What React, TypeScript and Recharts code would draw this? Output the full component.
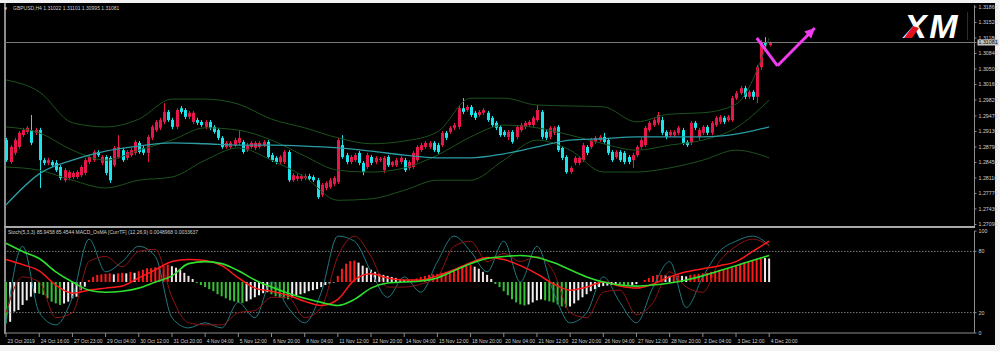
import React from 'react';
import { ComposedChart, Bar, Line, XAxis, YAxis, ReferenceLine, ReferenceDot, Cell } from 'recharts';

// GBPUSD H4, 23 Oct - 4 Dec 2019 (one entry per bar)
const opens = [
  1.2894, 1.2846, 1.2866, 1.2879, 1.2905, 1.2912, 1.2916, 1.2910, 1.2916, 1.2850,
  1.2844, 1.2846, 1.2844, 1.2835, 1.2806, 1.2811, 1.2813, 1.2813, 1.2817, 1.2822,
  1.2846, 1.2850, 1.2868, 1.2844, 1.2857, 1.2855, 1.2839, 1.2857, 1.2872, 1.2855,
  1.2861, 1.2866, 1.2888, 1.2877, 1.2866, 1.2899, 1.2916, 1.2921, 1.2934, 1.2956,
  1.2938, 1.2923, 1.2964, 1.2960, 1.2945, 1.2934, 1.2938, 1.2934, 1.2923, 1.2934,
  1.2923, 1.2916, 1.2899, 1.2879, 1.2879, 1.2883, 1.2888, 1.2890, 1.2872, 1.2879,
  1.2877, 1.2879, 1.2883, 1.2890, 1.2861, 1.2855, 1.2846, 1.2846, 1.2868, 1.2806,
  1.2809, 1.2809, 1.2811, 1.2815, 1.2813, 1.2806, 1.2774, 1.2789, 1.2791, 1.2798,
  1.2802, 1.2883, 1.2861, 1.2846, 1.2850, 1.2866, 1.2844, 1.2835, 1.2857, 1.2846,
  1.2850, 1.2828, 1.2857, 1.2839, 1.2839, 1.2846, 1.2850, 1.2833, 1.2835, 1.2850,
  1.2872, 1.2879, 1.2879, 1.2888, 1.2883, 1.2883, 1.2910, 1.2912, 1.2921, 1.2923,
  1.2964, 1.2960, 1.2967, 1.2954, 1.2949, 1.2954, 1.2954, 1.2943, 1.2932, 1.2923,
  1.2912, 1.2901, 1.2912, 1.2901, 1.2916, 1.2923, 1.2927, 1.2927, 1.2938, 1.2956,
  1.2912, 1.2901, 1.2910, 1.2923, 1.2877, 1.2857, 1.2824, 1.2844, 1.2844, 1.2850,
  1.2879, 1.2879, 1.2890, 1.2894, 1.2901, 1.2894, 1.2868, 1.2857, 1.2868, 1.2866,
  1.2857, 1.2850, 1.2861, 1.2879, 1.2883, 1.2916, 1.2927, 1.2932, 1.2938, 1.2912,
  1.2905, 1.2905, 1.2910, 1.2916, 1.2890, 1.2888, 1.2932, 1.2901, 1.2910, 1.2923,
  1.2910, 1.2927, 1.2934, 1.2943, 1.2938, 1.2938, 1.2986, 1.2997, 1.3008, 1.2989,
  1.3000, 1.2989, 1.3054, 1.3107, 1.31022,
];
const highs = [
  1.2899, 1.2883, 1.2899, 1.2914, 1.2921, 1.2925, 1.2949, 1.2921, 1.2921, 1.2855,
  1.2855, 1.2850, 1.2850, 1.2839, 1.2833, 1.2828, 1.2826, 1.2828, 1.2839, 1.2855,
  1.2861, 1.2872, 1.2872, 1.2861, 1.2861, 1.2859, 1.2881, 1.2905, 1.2877, 1.2872,
  1.2877, 1.2894, 1.2892, 1.2881, 1.2905, 1.2927, 1.2938, 1.2943, 1.2975, 1.2960,
  1.2943, 1.2964, 1.2969, 1.2964, 1.2958, 1.2958, 1.2943, 1.2938, 1.2938, 1.2938,
  1.2927, 1.2921, 1.2903, 1.2892, 1.2892, 1.2899, 1.2916, 1.2894, 1.2888, 1.2892,
  1.2892, 1.2892, 1.2894, 1.2894, 1.2866, 1.2859, 1.2861, 1.2872, 1.2872, 1.2822,
  1.2820, 1.2820, 1.2820, 1.2820, 1.2817, 1.2811, 1.2800, 1.2804, 1.2811, 1.2815,
  1.2899, 1.2905, 1.2866, 1.2861, 1.2866, 1.2870, 1.2848, 1.2866, 1.2861, 1.2859,
  1.2857, 1.2859, 1.2861, 1.2848, 1.2855, 1.2859, 1.2855, 1.2850, 1.2870, 1.2883,
  1.2888, 1.2892, 1.2892, 1.2892, 1.2888, 1.2914, 1.2914, 1.2925, 1.2932, 1.2969,
  1.2986, 1.2971, 1.2971, 1.2958, 1.2960, 1.2964, 1.2958, 1.2947, 1.2936, 1.2927,
  1.2916, 1.2916, 1.2916, 1.2927, 1.2932, 1.2936, 1.2938, 1.2947, 1.2971, 1.2960,
  1.2916, 1.2925, 1.2925, 1.2927, 1.2881, 1.2861, 1.2837, 1.2859, 1.2859, 1.2888,
  1.2883, 1.2899, 1.2903, 1.2905, 1.2910, 1.2899, 1.2872, 1.2872, 1.2872, 1.2870,
  1.2861, 1.2866, 1.2883, 1.2899, 1.2925, 1.2936, 1.2943, 1.2956, 1.2945, 1.2916,
  1.2916, 1.2916, 1.2925, 1.2921, 1.2894, 1.2936, 1.2936, 1.2921, 1.2927, 1.2927,
  1.2936, 1.2947, 1.2949, 1.2947, 1.2949, 1.2991, 1.3002, 1.3013, 1.3013, 1.3004,
  1.3004, 1.3059, 1.3114, 1.3120, 1.31101,
];
const lows = [
  1.2846, 1.2842, 1.2861, 1.2875, 1.2901, 1.2908, 1.2883, 1.2905, 1.2789, 1.2839,
  1.2839, 1.2835, 1.2824, 1.2806, 1.2802, 1.2806, 1.2809, 1.2809, 1.2813, 1.2817,
  1.2841, 1.2846, 1.2857, 1.2839, 1.2817, 1.2800, 1.2835, 1.2853, 1.2846, 1.2850,
  1.2857, 1.2861, 1.2864, 1.2861, 1.2846, 1.2894, 1.2912, 1.2916, 1.2929, 1.2934,
  1.2918, 1.2918, 1.2951, 1.2940, 1.2940, 1.2929, 1.2927, 1.2923, 1.2918, 1.2916,
  1.2908, 1.2894, 1.2875, 1.2875, 1.2875, 1.2879, 1.2883, 1.2864, 1.2868, 1.2875,
  1.2872, 1.2875, 1.2879, 1.2853, 1.2846, 1.2841, 1.2841, 1.2841, 1.2802, 1.2802,
  1.2804, 1.2804, 1.2806, 1.2804, 1.2802, 1.2765, 1.2769, 1.2784, 1.2787, 1.2793,
  1.2798, 1.2853, 1.2841, 1.2841, 1.2846, 1.2839, 1.2817, 1.2831, 1.2839, 1.2841,
  1.2846, 1.2822, 1.2835, 1.2835, 1.2835, 1.2841, 1.2824, 1.2828, 1.2831, 1.2846,
  1.2868, 1.2875, 1.2875, 1.2868, 1.2864, 1.2879, 1.2894, 1.2908, 1.2916, 1.2918,
  1.2951, 1.2956, 1.2945, 1.2938, 1.2945, 1.2949, 1.2934, 1.2923, 1.2916, 1.2901,
  1.2901, 1.2894, 1.2886, 1.2896, 1.2912, 1.2918, 1.2923, 1.2923, 1.2934, 1.2896,
  1.2894, 1.2896, 1.2905, 1.2868, 1.2850, 1.2820, 1.2820, 1.2839, 1.2839, 1.2846,
  1.2861, 1.2875, 1.2886, 1.2890, 1.2886, 1.2861, 1.2846, 1.2853, 1.2846, 1.2841,
  1.2841, 1.2833, 1.2857, 1.2875, 1.2879, 1.2912, 1.2923, 1.2927, 1.2905, 1.2896,
  1.2901, 1.2901, 1.2905, 1.2883, 1.2879, 1.2883, 1.2916, 1.2894, 1.2905, 1.2905,
  1.2905, 1.2923, 1.2929, 1.2929, 1.2934, 1.2934, 1.2982, 1.2993, 1.2984, 1.2984,
  1.2982, 1.2975, 1.3048, 1.3092, 1.30995,
];
const closes = [
  1.2850, 1.2879, 1.2894, 1.2910, 1.2916, 1.2921, 1.2888, 1.2916, 1.2850, 1.2844,
  1.2850, 1.2839, 1.2828, 1.2811, 1.2828, 1.2824, 1.2822, 1.2824, 1.2835, 1.2850,
  1.2857, 1.2868, 1.2861, 1.2857, 1.2822, 1.2806, 1.2877, 1.2879, 1.2850, 1.2868,
  1.2872, 1.2890, 1.2868, 1.2866, 1.2901, 1.2923, 1.2934, 1.2938, 1.2956, 1.2938,
  1.2923, 1.2960, 1.2956, 1.2945, 1.2954, 1.2954, 1.2932, 1.2927, 1.2934, 1.2921,
  1.2912, 1.2899, 1.2879, 1.2888, 1.2888, 1.2894, 1.2899, 1.2868, 1.2883, 1.2888,
  1.2888, 1.2888, 1.2890, 1.2857, 1.2850, 1.2846, 1.2857, 1.2868, 1.2806, 1.2817,
  1.2815, 1.2815, 1.2815, 1.2809, 1.2806, 1.2769, 1.2796, 1.2800, 1.2806, 1.2811,
  1.2894, 1.2857, 1.2846, 1.2857, 1.2861, 1.2844, 1.2824, 1.2861, 1.2844, 1.2855,
  1.2853, 1.2855, 1.2839, 1.2846, 1.2850, 1.2855, 1.2828, 1.2846, 1.2866, 1.2879,
  1.2883, 1.2888, 1.2888, 1.2872, 1.2868, 1.2910, 1.2899, 1.2921, 1.2927, 1.2964,
  1.2956, 1.2967, 1.2949, 1.2943, 1.2956, 1.2960, 1.2938, 1.2927, 1.2921, 1.2905,
  1.2905, 1.2912, 1.2890, 1.2923, 1.2927, 1.2932, 1.2934, 1.2943, 1.2960, 1.2901,
  1.2899, 1.2921, 1.2921, 1.2872, 1.2855, 1.2824, 1.2833, 1.2855, 1.2855, 1.2883,
  1.2866, 1.2894, 1.2899, 1.2901, 1.2890, 1.2866, 1.2850, 1.2868, 1.2850, 1.2846,
  1.2846, 1.2861, 1.2879, 1.2894, 1.2921, 1.2932, 1.2938, 1.2949, 1.2910, 1.2901,
  1.2912, 1.2912, 1.2921, 1.2888, 1.2883, 1.2932, 1.2921, 1.2916, 1.2923, 1.2910,
  1.2932, 1.2943, 1.2945, 1.2934, 1.2945, 1.2986, 1.2997, 1.3008, 1.2989, 1.3000,
  1.2989, 1.3054, 1.3107, 1.3102, 1.31081,
];

// Bollinger bands and slow MA, read every 8th bar
const BAND_STEP = 8;
const bbUpper = [1.3026, 1.3000, 1.2932, 1.2923, 1.2940, 1.2984, 1.2984, 1.2973, 1.2940, 1.2921, 1.2899, 1.2886,
  1.2892, 1.2912, 1.2986, 1.2986, 1.2971, 1.2969, 1.2967, 1.2934, 1.2951, 1.2954, 1.2973, 1.3118];
const bbMiddle = [1.2923, 1.2910, 1.2872, 1.2850, 1.2872, 1.2894, 1.2921, 1.2916, 1.2894, 1.2859, 1.2828, 1.2824,
  1.2833, 1.2861, 1.2901, 1.2927, 1.2921, 1.2905, 1.2886, 1.2872, 1.2883, 1.2894, 1.2921, 1.2982];
const bbLower = [1.2835, 1.2828, 1.2806, 1.2789, 1.2806, 1.2813, 1.2850, 1.2877, 1.2850, 1.2813, 1.2762, 1.2765,
  1.2784, 1.2806, 1.2806, 1.2850, 1.2894, 1.2872, 1.2824, 1.2824, 1.2833, 1.2850, 1.2872, 1.2855];
const slowMa = [1.2752, 1.2820, 1.2850, 1.2870, 1.2881, 1.2888, 1.2886, 1.2883, 1.2883, 1.2881, 1.2877, 1.2870,
  1.2861, 1.2855, 1.2855, 1.2864, 1.2879, 1.2894, 1.2897, 1.2901, 1.2901, 1.2901, 1.2907, 1.2923];

// oscillator window (0..100 scale), histogram per bar, lines every 4th bar
const OSC_STEP = 4;
const osmaHist = [
  9.5, 11, 21, 22.5, 27.5, 32, 35.6, 39, 38.5, 37.3,
  34, 30.7, 29, 27.5, 29, 30.7, 34, 35.6, 42, 45.4,
  52, 55, 57, 57.5, 58, 58.5, 57.5, 58.5, 59, 58.5,
  60, 59, 60.5, 62, 63.5, 63.6, 64.5, 65, 66, 67,
  65.5, 64, 62, 59, 56, 53, 49, 47, 45, 43,
  41, 38, 36, 34, 32, 31, 30, 29.5, 31, 33,
  35, 37, 39, 40, 38, 36, 35, 34, 33, 35,
  37, 38, 39, 41, 42, 43, 45, 47, 48.5, 49.5,
  56, 63, 68, 70.5, 71, 69, 66, 64, 62, 60,
  58, 57, 56, 55, 54, 53, 52, 51.5, 52.5, 53.5,
  55, 56, 57, 57.5, 58, 59, 60, 61, 62.5, 64,
  65, 66, 66.5, 65, 63, 60, 57, 53, 48, 45,
  41, 37, 33, 30, 28, 27, 28, 30, 32, 33,
  32, 31, 30, 28, 26, 25, 26, 29, 32, 35,
  38, 41, 43, 45, 46, 46.5, 47, 47.5, 47, 46.5,
  46.5, 47, 48, 50, 52, 54, 56, 57, 57, 56.5,
  56, 56, 56.5, 56, 55.5, 57, 57.5, 58, 58.5, 59,
  60, 61, 62, 62.5, 63, 64, 66, 68, 69, 70,
  71, 73, 74, 73.5, 73,
];
const macdRed = [72, 67, 61, 47, 39, 42, 44, 46, 54, 62, 70, 72, 71, 66, 54, 44, 41, 37, 31, 27, 33, 52, 58, 54,
  52, 52, 56, 62, 69, 74, 72, 66, 58, 48, 42, 45, 50, 46, 44, 48, 55, 60, 63, 66, 70, 80, 90];
const macdGreen = [88, 80, 73, 60, 50, 42, 40, 41, 44, 50, 56, 68, 70, 68, 61, 52, 45, 39, 34, 30, 27, 33, 44, 49,
  50, 51, 54, 61, 68, 73, 75, 76, 74, 69, 62, 55, 50, 47, 46, 47, 49, 52, 56, 61, 66, 71, 76];
const stochMain = [10, 85, 20, 8, 35, 92, 60, 70, 85, 75, 15, 5, 10, 5, 30, 15, 50, 25, 10, 40, 95, 90, 60, 35,
  55, 40, 70, 95, 80, 60, 90, 50, 85, 40, 10, 20, 55, 30, 10, 45, 70, 25, 55, 80, 90, 95, 86];
const stochSignal = [20, 55, 50, 15, 20, 70, 75, 65, 80, 82, 35, 10, 8, 8, 20, 22, 35, 35, 15, 25, 75, 95, 75, 45,
  45, 48, 55, 85, 90, 70, 78, 70, 75, 60, 20, 15, 40, 42, 18, 30, 60, 45, 40, 70, 85, 92, 85.5];

const timeLabels = ['23 Oct 2019', '24 Oct 16:00', '27 Oct 23:00', '29 Oct 04:00', '30 Oct 12:00', '31 Oct 20:00',
  '4 Nov 04:00', '5 Nov 12:00', '6 Nov 20:00', '8 Nov 04:00', '11 Nov 12:00', '12 Nov 20:00', '14 Nov 04:00',
  '15 Nov 12:00', '18 Nov 20:00', '20 Nov 04:00', '21 Nov 12:00', '22 Nov 20:00', '26 Nov 04:00', '27 Nov 12:00',
  '28 Nov 20:00', '2 Dec 04:00', '3 Dec 12:00', '4 Dec 20:00'];
const TIME_STEP = 8;
const priceTicks = [1.3186, 1.3152, 1.3118, 1.3084, 1.305, 1.3016, 1.2982, 1.2947, 1.2913, 1.2879, 1.2845,
  1.2811, 1.2777, 1.2743, 1.2709];
const oscTicks = [0, 20, 80, 100];
const lastPrice = 1.31081;
// hand-drawn arrow (bar index, price)
const arrowPts = [{ i: 181, p: 1.3118 }, { i: 186, p: 1.3057 }, { i: 195, p: 1.314 }];

const SLOTS = 234; // bars + empty chart shift on the right
const HIST_BASE = 50;
const FONT = 'Liberation Sans, Arial, sans-serif';
const TXT = '#cfcfcf';
const FRAME = '#8c8c8c';
const UP = '#e8174b';
const DOWN = '#1ce4ec';

const rows = Array.from({ length: SLOTS }, (_, i) => {
  const r: Record<string, any> = { i };
  if (i < closes.length) {
    r.o = opens[i];
    r.h = highs[i];
    r.l = lows[i];
    r.c = closes[i];
    r.range = [lows[i], highs[i]];
    const v = osmaHist[i];
    r.hist = [Math.min(HIST_BASE, v), Math.max(HIST_BASE, v)];
  }
  if (i % BAND_STEP === 0 && i / BAND_STEP < bbUpper.length) {
    const k = i / BAND_STEP;
    r.bbU = bbUpper[k];
    r.bbM = bbMiddle[k];
    r.bbL = bbLower[k];
    r.ma = slowMa[k];
  }
  if (i % OSC_STEP === 0 && i / OSC_STEP < stochMain.length) {
    const k = i / OSC_STEP;
    r.red = macdRed[k];
    r.green = macdGreen[k];
    r.sMain = stochMain[k];
    r.sSig = stochSignal[k];
  }
  return r;
});

const histColor = (i: number) => {
  if (i >= osmaHist.length) return 'none';
  const v = osmaHist[i];
  const prev = i > 0 ? osmaHist[i - 1] : v;
  if (v >= HIST_BASE) return v >= prev ? '#ff1a1a' : '#f4e4e4';
  return v <= prev ? '#34c234' : '#f0f0f0';
};

function Candle(props: any) {
  const { x, y, width, height, payload } = props;
  if (!payload || payload.c == null) return null;
  const { o, h, l, c } = payload;
  const k = h > l ? height / (h - l) : 0;
  const yo = y + (h - o) * k;
  const yc = y + (h - c) * k;
  const color = c >= o ? UP : DOWN;
  const cx = Math.round(x + width / 2) + 0.5;
  return (
    <g>
      <line x1={cx} x2={cx} y1={y} y2={y + height} stroke={color} strokeWidth={1} />
      <rect x={cx - 1.5} y={Math.min(yo, yc)} width={3} height={Math.max(1, Math.abs(yc - yo))} fill={color} />
    </g>
  );
}

function PriceTick(props: any) {
  const { x, y, payload } = props;
  const v = payload.value;
  if (v === lastPrice) {
    return (
      <g>
        <rect x={x - 1} y={y - 3} width={21} height={6} fill="#c4c4c4" />
        <text x={x} y={y + 1.9} fontSize={5.3} fontFamily={FONT} fill="#000">{v.toFixed(5)}</text>
      </g>
    );
  }
  return <text x={x} y={y + 1.9} fontSize={5.3} fontFamily={FONT} fill={TXT}>{v.toFixed(5)}</text>;
}

function OscTick(props: any) {
  const { x, y, payload } = props;
  return <text x={x} y={y + 1.9} fontSize={5.3} fontFamily={FONT} fill={TXT}>{payload.value}</text>;
}

function TimeTick(props: any) {
  const { x, y, payload } = props;
  return (
    <text x={x + 1.5} y={y + 3.8} fontSize={5} fontFamily={FONT} fill={TXT} textAnchor="start">
      {timeLabels[payload.value / TIME_STEP]}
    </text>
  );
}

function ArrowHead(props: any) {
  const { cx, cy } = props;
  if (cx == null) return null;
  return <polygon points="0,0 -10,-5 -10,5" fill="#f03cf0" transform={`translate(${cx},${cy}) rotate(-45)`} />;
}

export default function App() {
  const timeTicks = timeLabels.map((_, k) => k * TIME_STEP);
  return (
    <div style={{ position: 'absolute', left: 0, top: 0, width: 1000, height: 351, background: '#f2f2f2', overflow: 'hidden' }}>
      <div style={{ position: 'absolute', left: 0, top: 3, width: 995, height: 342, background: '#000' }} />
      <div style={{ position: 'absolute', left: 4, top: 3, width: 1.5, height: 331, background: FRAME }} />

      {/* price window */}
      <div style={{ position: 'absolute', left: 0, top: 0 }}>
        <ComposedChart width={1000} height={227} data={rows} margin={{ top: 5, right: 0, bottom: 1, left: 4 }}>
          <XAxis dataKey="i" hide />
          <YAxis
            orientation="right"
            width={25.5}
            type="number"
            domain={[1.27056, 1.31904]}
            allowDataOverflow
            ticks={[...priceTicks, lastPrice]}
            interval={0}
            tick={<PriceTick />}
            tickSize={2}
            tickLine={{ stroke: FRAME }}
            axisLine={{ stroke: FRAME }}
          />
          <ReferenceLine y={lastPrice} stroke="#7a7a7a" strokeWidth={1} />
          <Line dataKey="bbU" type="monotone" stroke="#1d531d" strokeWidth={1} dot={false} connectNulls isAnimationActive={false} />
          <Line dataKey="bbM" type="monotone" stroke="#1d531d" strokeWidth={1} dot={false} connectNulls isAnimationActive={false} />
          <Line dataKey="bbL" type="monotone" stroke="#1d531d" strokeWidth={1} dot={false} connectNulls isAnimationActive={false} />
          <Line dataKey="ma" type="monotone" stroke="#2a9ca4" strokeWidth={1.3} dot={false} connectNulls isAnimationActive={false} />
          <Bar dataKey="range" barSize={3} isAnimationActive={false} shape={(p: any) => <Candle {...p} />} />
          <ReferenceLine
            segment={[{ x: arrowPts[0].i, y: arrowPts[0].p }, { x: arrowPts[1].i, y: arrowPts[1].p }]}
            stroke="#f03cf0" strokeWidth={3} ifOverflow="visible"
          />
          <ReferenceLine
            segment={[{ x: arrowPts[1].i, y: arrowPts[1].p }, { x: arrowPts[2].i, y: arrowPts[2].p }]}
            stroke="#f03cf0" strokeWidth={3} ifOverflow="visible"
          />
          <ReferenceDot x={arrowPts[2].i} y={arrowPts[2].p} ifOverflow="visible" shape={(p: any) => <ArrowHead {...p} />} />
        </ComposedChart>
      </div>

      <div style={{ position: 'absolute', left: 4, top: 225.5, width: 971, height: 2, background: '#a8a8a8' }} />

      {/* oscillator window */}
      <div style={{ position: 'absolute', left: 0, top: 226 }}>
        <ComposedChart width={1000} height={119} data={rows} margin={{ top: 5, right: 0, bottom: 0, left: 4 }}>
          <XAxis
            dataKey="i"
            height={12}
            ticks={timeTicks}
            interval={0}
            tick={<TimeTick />}
            tickSize={4}
            tickLine={{ stroke: FRAME }}
            axisLine={{ stroke: FRAME }}
          />
          <YAxis
            orientation="right"
            width={25.5}
            type="number"
            domain={[0, 100]}
            ticks={oscTicks}
            interval={0}
            tick={<OscTick />}
            tickSize={2}
            tickLine={{ stroke: FRAME }}
            axisLine={{ stroke: FRAME }}
          />
          <ReferenceLine y={80} stroke="#9a9a9a" strokeDasharray="1.5 1.5" strokeWidth={0.8} />
          <ReferenceLine y={20} stroke="#9a9a9a" strokeDasharray="1.5 1.5" strokeWidth={0.8} />
          <Bar dataKey="hist" barSize={2} isAnimationActive={false}>
            {rows.map((_, i) => <Cell key={i} fill={histColor(i)} />)}
          </Bar>
          <Line dataKey="sMain" type="monotone" stroke="#1f7a80" strokeWidth={1} dot={false} connectNulls isAnimationActive={false} />
          <Line dataKey="sSig" type="monotone" stroke="#8e1414" strokeWidth={1} dot={false} connectNulls isAnimationActive={false} />
          <Line dataKey="red" type="monotone" stroke="#ff1a1a" strokeWidth={1.5} dot={false} connectNulls isAnimationActive={false} />
          <Line dataKey="green" type="monotone" stroke="#2ee02e" strokeWidth={1.6} dot={false} connectNulls isAnimationActive={false} />
        </ComposedChart>
      </div>

      {/* window captions and broker logo */}
      <svg width={1000} height={351} style={{ position: 'absolute', left: 0, top: 0, pointerEvents: 'none' }}>
        <text x={4} y={10} fontSize={4} fontFamily="DejaVu Sans, sans-serif" fill={TXT}>▼</text>
        <text x={13} y={10} fontSize={5} fontFamily={FONT} fill={TXT}>GBPUSD,H4  1.31022 1.31101 1.30995 1.31081</text>
        <text x={8} y={234} fontSize={5} fontFamily={FONT} fill={TXT}>
          Stoch(5,3,3) 85.9458 85.4544  MACD_OsMA [CurrTF] (12,26,9) 0.0048968 0.0033637
        </text>
        <text x={904} y={38} fontSize={34} fontWeight={900} fontStyle="italic" fontFamily={FONT} fill="#ffffff" letterSpacing={2.5}>
          XM
        </text>
        <polygon points="904,38 912,38 919,28 913,26" fill="#e0141e" />
        <line x1={967.5} x2={967.5} y1={12} y2={40} stroke="#7a0c0c" strokeWidth={1} />
      </svg>
    </div>
  );
}
